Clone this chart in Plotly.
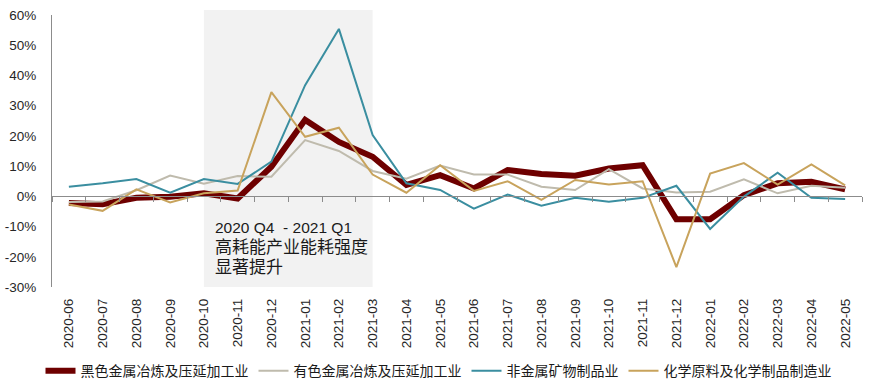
import plotly.graph_objects as go

months = ["2020-06", "2020-07", "2020-08", "2020-09", "2020-10", "2020-11", "2020-12",
          "2021-01", "2021-02", "2021-03", "2021-04", "2021-05", "2021-06", "2021-07",
          "2021-08", "2021-09", "2021-10", "2021-11", "2021-12", "2022-01", "2022-02",
          "2022-03", "2022-04", "2022-05"]

ferrous = [-2.2, -2.6, -0.5, -0.1, 1.0, -0.7, 9.8, 25.3, 18.0, 13.1, 3.8, 7.0, 2.6, 8.7,
           7.4, 6.8, 9.2, 10.3, -7.6, -7.6, 0.4, 4.3, 4.8, 2.3]
nonferrous = [-1.9, -1.7, 2.0, 6.9, 4.2, 6.7, 6.5, 18.6, 15.0, 8.4, 5.8, 10.2, 7.2, 7.2,
              3.2, 2.1, 9.0, 2.6, 1.3, 1.5, 5.6, 1.0, 3.5, 2.8]
nonmetal = [3.2, 4.3, 5.7, 1.2, 5.7, 4.1, 11.5, 36.8, 55.4, 20.3, 4.3, 2.1, -4.1, 0.6,
            -3.1, -0.5, -1.8, -0.5, 3.5, -10.8, -0.1, 7.8, -0.5, -0.9]
chemical = [-2.7, -4.8, 2.3, -2.0, 1.0, 1.9, 34.5, 19.7, 22.7, 7.2, 1.2, 10.3, 1.8, 5.0,
            -1.2, 5.4, 3.9, 5.0, -23.4, 7.5, 11.0, 3.9, 10.6, 3.6]

y_tick_vals = [-30, -20, -10, 0, 10, 20, 30, 40, 50, 60]
y_tick_text = ["-30%", "-20%", "-10%", "0%", "10%", "20%", "30%", "40%", "50%", "60%"]

names = ["黑色金属冶炼及压延加工业", "有色金属冶炼及压延加工业", "非金属矿物制品业", "化学原料及化学制品制造业"]
series = [ferrous, nonferrous, nonmetal, chemical]
colors = ["#6e0000", "#bfbbad", "#3a8ea0", "#c8a35c"]
widths = [6, 2, 2, 2]

shade_start, shade_end = "2020-10", "2021-03"
note = ("2020 Q4  - 2021 Q1<br>"
        "<span style='font-size:17px'>高耗能产业能耗强度</span><br>"
        "<span style='font-size:17px'>显著提升</span>")

FONT = "Liberation Sans, Arial, Noto Sans CJK SC, sans-serif"

fig = go.Figure()
for name, vals, c, w in zip(names, series, colors, widths):
    fig.add_trace(go.Scatter(
        x=months, y=vals, name=name, mode="lines",
        line=dict(color=c, width=w), hoverinfo="skip"))

# invisible trace to carry the category axis drawn at the zero line
fig.add_trace(go.Scatter(x=months, y=[0] * len(months), xaxis="x2", mode="lines",
                         line=dict(width=0), opacity=0, showlegend=False, hoverinfo="skip"))

fig.add_shape(type="rect", xref="x", yref="paper", x0=shade_start, x1=shade_end,
              y0=0, y1=1.018, fillcolor="#f2f2f2", line=dict(width=0), layer="below")

fig.add_annotation(xref="x", yref="y", x=4.28, y=-6.8, xanchor="left", yanchor="top",
                   text=note, showarrow=False, align="left",
                   font=dict(size=15.5, color="#1a1a1a", family=FONT))

fig.update_layout(
    width=877, height=389,
    margin=dict(l=52, r=15, t=15, b=102, autoexpand=False),
    paper_bgcolor="white", plot_bgcolor="white",
    font=dict(family=FONT, color="#262626", size=13),
    showlegend=True,
    legend=dict(orientation="h", xref="container", yref="container",
                x=0.5, xanchor="center", y=0.046, yanchor="middle",
                font=dict(size=14, color="#1a1a1a"), itemwidth=30,
                tracegroupgap=0, bgcolor="rgba(0,0,0,0)"),
    xaxis=dict(type="category", categoryorder="array", categoryarray=months,
               range=[-0.5, len(months) - 0.5], showline=False, showgrid=False,
               zeroline=False, ticks="", tickangle=-90, automargin=False,
               tickfont=dict(size=13.5, color="#262626"), ticklabelstandoff=8),
    xaxis2=dict(type="category", categoryorder="array", categoryarray=months,
                range=[-0.5, len(months) - 0.5], overlaying="x", anchor="free",
                position=1 / 3, showline=True, linecolor="#8c8c8c", linewidth=1,
                ticks="outside", tickson="boundaries", ticklen=5, tickcolor="#8c8c8c",
                showticklabels=False, showgrid=False, zeroline=False, automargin=False),
    yaxis=dict(range=[-30, 60], tickmode="array", tickvals=y_tick_vals,
               ticktext=y_tick_text, showgrid=False,
               zeroline=False, showline=True, linecolor="#8c8c8c", linewidth=1,
               ticks="", automargin=False, tickfont=dict(size=13.5, color="#262626"),
               ticklabelstandoff=12),
)

fig.write_html("out.html", config={"displayModeBar": False},
               post_script="document.body.style.margin='0px';")
